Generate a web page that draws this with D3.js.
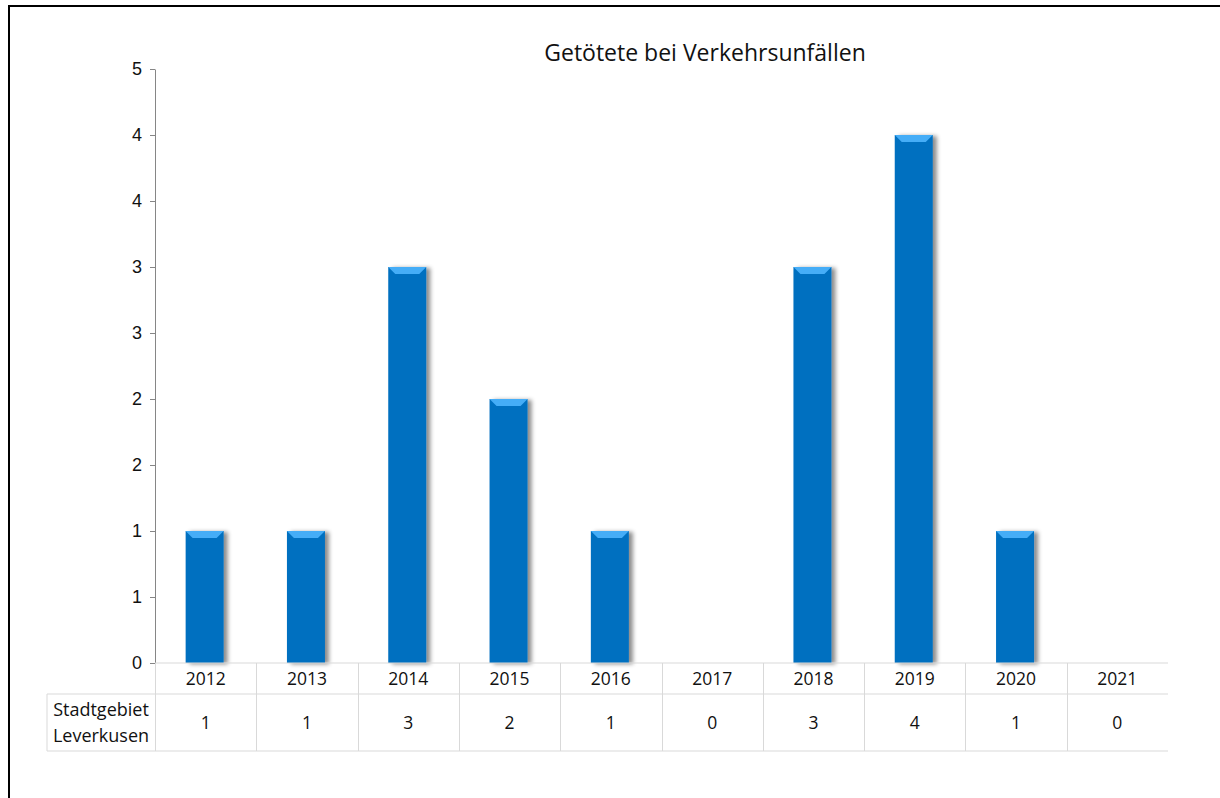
<!DOCTYPE html>
<html>
<head>
<meta charset="utf-8">
<script src="https://cdn.jsdelivr.net/npm/d3@7"></script>
<style>
  body { margin: 0; background: #fff; }
  svg { display: block; }
</style>
</head>
<body>
<svg id="chart"></svg>
<script>
// Getötete bei Verkehrsunfällen, Stadtgebiet Leverkusen
const years = ["2012", "2013", "2014", "2015", "2016", "2017", "2018", "2019", "2020", "2021"];
const killed = [1, 1, 3, 2, 1, 0, 3, 4, 1, 0];
const yTicks = [0, 0.5, 1, 1.5, 2, 2.5, 3, 3.5, 4, 4.5];
const seriesName = ["Stadtgebiet", "Leverkusen"];
const title = "Getötete bei Verkehrsunfällen";

const W = 1220, H = 798;
const plot = { left: 155, right: 1168, top: 69, bottom: 663 };
const rowYear = 31, rowData = 57, labelLeft = 47;

const svg = d3.select("#chart").attr("width", W).attr("height", H);

// drop shadow for the bars
const defs = svg.append("defs");
const f = defs.append("filter").attr("id", "shadow")
  .attr("x", "-20%").attr("y", "-5%").attr("width", "150%").attr("height", "115%");
f.append("feDropShadow").attr("dx", 4).attr("dy", 1).attr("stdDeviation", 2)
  .attr("flood-color", "#000").attr("flood-opacity", 0.45);

// outer frame (only top and left visible)
svg.append("path")
  .attr("d", `M9,${H} V6 H${W}`)
  .attr("fill", "none").attr("stroke", "#000").attr("stroke-width", 2);

// title
svg.append("text")
  .attr("x", 705).attr("y", 61)
  .attr("text-anchor", "middle")
  .attr("font-family", "'Open Sans', sans-serif")
  .attr("font-size", 23)
  .attr("fill", "#111")
  .text(title);

const x = d3.scaleBand().domain(years).range([plot.left, plot.right]);
const y = d3.scaleLinear().domain([0, 4.5]).range([plot.bottom, plot.top]);

// y axis
const yAxis = svg.append("g")
  .attr("transform", `translate(${plot.left},0)`)
  .call(d3.axisLeft(y).tickValues(yTicks).tickFormat(d => Math.round(d)).tickSize(5).tickSizeOuter(0));
yAxis.select(".domain").attr("stroke", "#868686");
yAxis.selectAll(".tick line").attr("stroke", "#868686");
yAxis.selectAll(".tick text")
  .attr("font-family", "'Liberation Sans', Arial, sans-serif")
  .attr("font-size", 18).attr("fill", "#111").attr("x", -13);

// bars
const bw = 38;
const bars = svg.append("g").selectAll("g.bar")
  .data(years.map((yr, i) => ({ yr, v: killed[i] })).filter(d => d.v > 0))
  .join("g").attr("class", "bar");

bars.append("rect")
  .attr("x", d => x(d.yr) + x.bandwidth() / 2 - bw / 2 - 1)
  .attr("y", d => y(d.v))
  .attr("width", bw)
  .attr("height", d => y(0) - y(d.v))
  .attr("fill", "#0070c0")
  .attr("filter", "url(#shadow)");

bars.append("path")
  .attr("d", d => {
    const x0 = x(d.yr) + x.bandwidth() / 2 - bw / 2 - 1, y0 = y(d.v);
    return `M${x0},${y0} H${x0 + bw} L${x0 + bw - 7},${y0 + 7} H${x0 + 7} Z`;
  })
  .attr("fill", "#45adf7");

// data table
const grid = "#d9d9d9";
const tbl = svg.append("g");
const y0 = plot.bottom, y1 = y0 + rowYear, y2 = y1 + rowData;

tbl.append("line").attr("x1", plot.left).attr("x2", plot.right).attr("y1", y0).attr("y2", y0).attr("stroke", grid);
tbl.append("line").attr("x1", labelLeft).attr("x2", plot.right).attr("y1", y1).attr("y2", y1).attr("stroke", grid);
tbl.append("line").attr("x1", labelLeft).attr("x2", plot.right).attr("y1", y2).attr("y2", y2).attr("stroke", grid);
tbl.append("line").attr("x1", labelLeft).attr("x2", labelLeft).attr("y1", y1).attr("y2", y2).attr("stroke", grid);

tbl.selectAll("line.sep")
  .data(years)
  .join("line").attr("class", "sep")
  .attr("x1", d => Math.round(x(d)) + 0.5).attr("x2", d => Math.round(x(d)) + 0.5)
  .attr("y1", y0).attr("y2", y2).attr("stroke", grid);

const font = "'Open Sans', 'Noto Sans', sans-serif";
tbl.selectAll("text.yr")
  .data(years)
  .join("text").attr("class", "yr")
  .attr("x", d => x(d) + x.bandwidth() / 2)
  .attr("y", y0 + rowYear / 2 + 6)
  .attr("text-anchor", "middle")
  .attr("font-family", font).attr("font-size", 17.5).attr("fill", "#111")
  .text(d => d);

tbl.selectAll("text.val")
  .data(years.map((yr, i) => ({ yr, v: killed[i] })))
  .join("text").attr("class", "val")
  .attr("x", d => x(d.yr) + x.bandwidth() / 2)
  .attr("y", y1 + rowData / 2 + 6)
  .attr("text-anchor", "middle")
  .attr("font-family", font).attr("font-size", 17.5).attr("fill", "#111")
  .text(d => d.v);

tbl.selectAll("text.lbl")
  .data(seriesName)
  .join("text").attr("class", "lbl")
  .attr("x", (labelLeft + plot.left) / 2)
  .attr("y", (d, i) => y1 + 22 + i * 26)
  .attr("text-anchor", "middle")
  .attr("font-family", font).attr("font-size", 18).attr("fill", "#111")
  .text(d => d);
</script>
</body>
</html>
